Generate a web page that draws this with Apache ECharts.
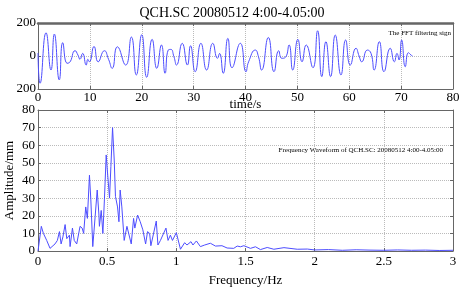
<!DOCTYPE html>
<html>
<head>
<meta charset="utf-8">
<script src="https://cdn.jsdelivr.net/npm/echarts@6/dist/echarts.min.js"></script>
<style>
html, body { margin: 0; background: #ffffff; }
#chart { width: 464px; height: 290px; }
</style>
</head>
<body>
<div id="chart"></div>
<script>
// filtered waveform (turning points)
const timeS = [0, 0.4, 1.55, 2.5, 3.15, 4.1, 4.77, 5.6, 6.05, 7.15, 7.7, 8.1, 8.6, 9.3, 9.6, 9.9,
  10.8, 11.6, 12.8, 13.6, 14.3, 15.3, 16.9, 18.0, 18.95, 20.0, 20.95, 22.0, 22.9, 23.8, 24.5,
  25.1, 25.6, 26.2, 26.7, 27.8, 28.8, 29.4, 30.3, 31.4, 32.5, 33.7, 34.6, 35.0, 35.7, 36.6,
  37.4, 39.0, 40.1, 40.6, 41.9, 42.5, 43.1, 44.4, 45.5, 46.4, 47.0, 47.7, 48.4, 49.1, 50.1,
  50.9, 51.7, 53.0, 53.9, 54.7, 55.5, 56.4, 57.3, 58.4, 59.3, 60.2, 61.3, 61.9, 62.4, 63.5,
  64.2, 64.8, 65.8, 66.7, 67.9, 68.7, 69.2, 69.6, 70.1, 70.8, 71.4, 71.9, 72.2]
const filtered = [18, -165, 141, -85, 133, -145, 81, -44, -40, 32, 6, -20, 16, -55, -20, -35,
  58, -35, 32, -20, -75, 56, -55, 115, -115, 129, -129, 101, -75, 67, -105,
  36, 40, -4, -55, 77, -55, 62, -95, 77, -85, 77, -14, 16, -105, 107,
  -71, 77, -95, -35, 36, -4, -85, 112, -95, 32, -14, -8, 67, -85, 101,
  -35, 67, -71, 153, -125, 87, -125, 127, -115, 97, -55, 47, 0, -35, 36,
  16, -85, 87, -95, 47, -35, 16, -24, 97, -65, 20, 6, 0]

// amplitude spectrum, bottom panel
const freqHz = [0, 0.024, 0.039, 0.063, 0.087, 0.123, 0.14, 0.155, 0.167, 0.18, 0.196, 0.208,
  0.227, 0.232, 0.249, 0.262, 0.28, 0.292, 0.304, 0.319, 0.33, 0.345, 0.357, 0.372, 0.382,
  0.396, 0.413, 0.428, 0.44, 0.444, 0.457, 0.469, 0.48, 0.493, 0.505, 0.517, 0.527, 0.539,
  0.551, 0.56, 0.575, 0.585, 0.594, 0.606, 0.623, 0.643, 0.655, 0.674, 0.691, 0.7, 0.72,
  0.739, 0.758, 0.778, 0.792, 0.807, 0.816, 0.855, 0.867, 0.885, 0.925, 0.94, 0.957, 0.972,
  1.0, 1.03, 1.06, 1.077, 1.106, 1.12, 1.145, 1.174, 1.205, 1.246, 1.283, 1.33, 1.367, 1.415,
  1.44, 1.464, 1.488, 1.536, 1.572, 1.608, 1.657, 1.705, 1.778, 1.874, 1.947, 2.0, 2.1, 2.2,
  2.3, 2.4, 2.5, 2.6, 2.7, 2.8, 2.9, 3.0]
const amplitude = [0, 14, 10, 6, 1.5, 4, 6, 11, 4, 8, 15, 7,
  9, 2.5, 13, 6, 4, 3, 14, 13, 10, 25, 18.5, 43, 29,
  2.5, 19.5, 34.6, 21, 14, 23, 10, 29, 54.5, 42, 30, 48, 70,
  51.6, 31, 25, 16.6, 34.6, 25, 6, 14, 15, 4, 18.5, 13, 20.4,
  16.6, 12, 4, 11, 10, 3, 17, 3.4, 6, 13, 6, 9, 6,
  10.4, 1, 4.7, 3.4, 5.3, 3.4, 5.7, 2.5, 3.4, 4.4, 2.8, 3, 1.7, 1.5,
  2.8, 2.4, 3, 1.5, 2.4, 0.8, 2, 1, 1.9, 1, 1.1, 0.6, 0.8, 0.4,
  0.7, 0.5, 0.4, 0.6, 0.4, 0.5, 0.3, 0.4]

const serif = 'Liberation Serif'
const boxColor = '#666666'
const lineColor = '#4d4dff'

const chart = echarts.init(document.getElementById('chart'))

const grids = [
  { left: 38, right: 11, top: 23, height: 66, outerBoundsMode: 'none' },
  { left: 38, right: 11, top: 110, bottom: 39, outerBoundsMode: 'none' }
]

function frameAxis (gridIndex, pos, min, max, interval, width) {
  return {
    gridIndex: gridIndex,
    type: 'value',
    position: pos,
    min: min,
    max: max,
    interval: interval,
    axisLine: { show: true, onZero: false, lineStyle: { color: boxColor, width: width } },
    axisTick: { show: true, inside: true, length: 3, lineStyle: { color: boxColor } },
    axisLabel: { show: false },
    splitLine: { show: false }
  }
}

const grid0Line = { show: true, lineStyle: { color: '#bbbbbb', type: 'dotted', width: 1 } }

chart.setOption({
  animation: false,
  title: {
    text: 'QCH.SC 20080512 4:00-4.05:00',
    left: 'center',
    top: 1,
    textStyle: { fontFamily: serif, fontSize: 14, fontWeight: 'normal', color: '#000' }
  },
  grid: grids,
  xAxis: [
    {
      gridIndex: 0,
      type: 'value',
      min: 0,
      max: 80,
      interval: 10,
      name: 'time/s',
      nameLocation: 'middle',
      nameGap: 9,
      nameMoveOverlap: false,
      nameTextStyle: { fontFamily: serif, fontSize: 13, color: '#000' },
      axisLine: { onZero: false, lineStyle: { color: boxColor } },
      axisTick: { inside: true, length: 3, lineStyle: { color: boxColor } },
      axisLabel: { fontFamily: serif, fontSize: 13, color: '#000', margin: 2 },
      splitLine: grid0Line
    },
    frameAxis(0, 'top', 0, 80, 10, 2.5),
    {
      gridIndex: 1,
      type: 'value',
      min: 0,
      max: 3,
      interval: 0.5,
      name: 'Frequency/Hz',
      nameLocation: 'middle',
      nameGap: 23,
      nameMoveOverlap: false,
      nameTextStyle: { fontFamily: serif, fontSize: 13, color: '#000' },
      axisLine: { onZero: false, lineStyle: { color: boxColor } },
      axisTick: { inside: true, length: 3, lineStyle: { color: boxColor } },
      axisLabel: { fontFamily: serif, fontSize: 13, color: '#000', margin: 4 },
      splitLine: grid0Line
    },
    frameAxis(1, 'top', 0, 3, 0.5, 1)
  ],
  yAxis: [
    {
      gridIndex: 0,
      type: 'value',
      min: -200,
      max: 200,
      interval: 200,
      axisLine: { show: true, onZero: false, lineStyle: { color: boxColor } },
      axisTick: { show: true, inside: true, length: 3, lineStyle: { color: boxColor } },
      axisLabel: { fontFamily: serif, fontSize: 13, color: '#000', margin: 2, formatter: v => String(Math.abs(v)) },
      splitLine: grid0Line
    },
    frameAxis(0, 'right', -200, 200, 200, 1),
    {
      gridIndex: 1,
      type: 'value',
      min: 0,
      max: 80,
      interval: 10,
      name: 'Amplitude/mm',
      nameLocation: 'middle',
      nameGap: 22,
      nameMoveOverlap: false,
      nameTextStyle: { fontFamily: serif, fontSize: 13, color: '#000' },
      axisLine: { show: true, onZero: false, lineStyle: { color: boxColor } },
      axisTick: { show: true, inside: true, length: 3, lineStyle: { color: boxColor } },
      axisLabel: { fontFamily: serif, fontSize: 13, color: '#000', margin: 3 },
      splitLine: grid0Line
    },
    frameAxis(1, 'right', 0, 80, 10, 1)
  ],
  graphic: [
    {
      type: 'text',
      right: 13,
      top: 30,
      style: { text: 'The FFT filtering sign', font: '7px "Liberation Serif"', fill: '#000' }
    },
    {
      type: 'text',
      right: 21,
      top: 147,
      style: { text: 'Frequency Waveform of QCH.SC: 20080512 4:00-4.05:00', font: '7px "Liberation Serif"', fill: '#000' }
    }
  ],
  series: [
    {
      type: 'line',
      xAxisIndex: 0,
      yAxisIndex: 0,
      data: timeS.map((t, i) => [t, filtered[i]]),
      smooth: 0.55,
      showSymbol: false,
      lineStyle: { color: lineColor, width: 1 }
    },
    {
      type: 'line',
      xAxisIndex: 2,
      yAxisIndex: 2,
      data: freqHz.map((f, i) => [f, amplitude[i]]),
      showSymbol: false,
      lineStyle: { color: lineColor, width: 1 }
    }
  ]
})
</script>
</body>
</html>
